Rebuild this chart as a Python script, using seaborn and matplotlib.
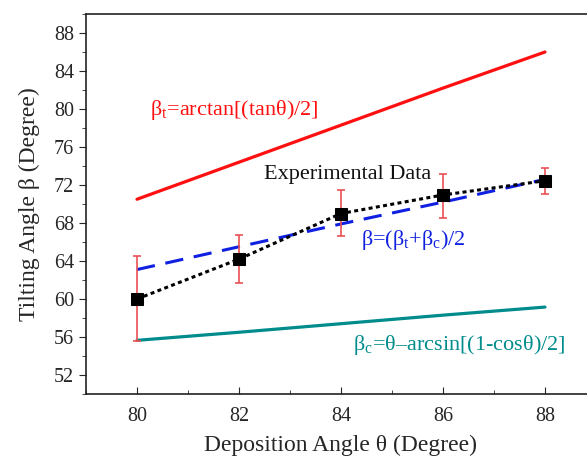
import numpy as np
import pandas as pd
import matplotlib
matplotlib.use('Agg')
import matplotlib.pyplot as plt
import seaborn as sns
from matplotlib.ticker import MultipleLocator

# deposition angle (degree)
theta = [80, 82, 84, 86, 88]

# model curves
beta_t = [70.5, 74.4, 78.3, 82.2, 86.0]
beta_c = [55.65, 56.5, 57.4, 58.3, 59.15]
beta_avg = [63.1, 65.5, 67.9, 70.2, 72.6]

# experimental data with error bars
exp_beta = [60.0, 64.2, 69.0, 70.95, 72.45]
err_low = [55.6, 61.7, 66.6, 68.5, 71.1]
err_high = [64.5, 66.7, 71.45, 73.2, 73.8]

sns.set_style('ticks')
plt.rcParams['font.family'] = ['Liberation Serif', 'DejaVu Serif']
plt.rcParams['mathtext.fontset'] = 'custom'
plt.rcParams['mathtext.rm'] = 'Liberation Serif'

df = pd.DataFrame({'theta': theta, 'bt': beta_t, 'bc': beta_c,
                   'bavg': beta_avg, 'exp': exp_beta})

fig = plt.figure(figsize=(5.87, 4.59), dpi=100)
ax = fig.add_axes([0.1465, 0.1416, 0.8688, 0.8279])

sns.lineplot(data=df, x='theta', y='bt', color='#ff1010', lw=2.3, ax=ax)
sns.lineplot(data=df, x='theta', y='bc', color='#008c8c', lw=2.3, ax=ax)
sns.lineplot(data=df, x='theta', y='bavg', color='#1020e0', lw=2.2, ax=ax,
             dashes=False, linestyle=(0, (6, 3.5)))

yerr = np.array([np.array(exp_beta) - np.array(err_low),
                 np.array(err_high) - np.array(exp_beta)])
ax.errorbar(theta, exp_beta, yerr=yerr, fmt='none', ecolor='#ea5055',
            elinewidth=1.2, capsize=3, capthick=1.2, zorder=3)
sns.lineplot(data=df, x='theta', y='exp', color='black', lw=2.2, ax=ax,
             linestyle=(0, (1.3, 1.1)), marker='s', markersize=9,
             markeredgecolor='black', zorder=4)

ax.text(80.25, 79.9, r'β$_\mathregular{t}$=arctan[(tanθ)/2]', color='#ff1010',
        fontsize=16, va='center')
ax.text(82.5, 73.1, 'Experimental Data', color='#111111', fontsize=16, va='center')
ax.text(84.4, 66.2, r'β=(β$_\mathregular{t}$+β$_\mathregular{c}$)/2', color='#1020e0',
        fontsize=16, va='center')
ax.text(84.24, 55.2, r'β$_\mathregular{c}$=θ–arcsin[(1-cosθ)/2]', color='#008c8c',
        fontsize=16, va='center')

ax.set_xlim(79, 89)
ax.set_ylim(50, 90)
ax.set_xticks([80, 82, 84, 86, 88])
ax.set_yticks(np.arange(52, 89, 4))
ax.xaxis.set_minor_locator(MultipleLocator(1))
ax.yaxis.set_minor_locator(MultipleLocator(2))
ax.tick_params(axis='x', which='both', direction='in', labelsize=14.5, pad=9)
ax.tick_params(axis='x', which='major', length=5)
ax.tick_params(axis='x', which='minor', length=3)
ax.tick_params(axis='y', which='major', length=5, labelsize=14.5)
ax.tick_params(axis='y', which='minor', length=3)
for s in ax.spines.values():
    s.set_linewidth(1.2)
    s.set_color('#222222')

ax.set_xlabel('Deposition Angle θ (Degree)', fontsize=17, labelpad=7)
ax.set_ylabel('Tilting Angle β (Degree)', fontsize=17, labelpad=10)

fig.savefig('out.png', dpi=100)
